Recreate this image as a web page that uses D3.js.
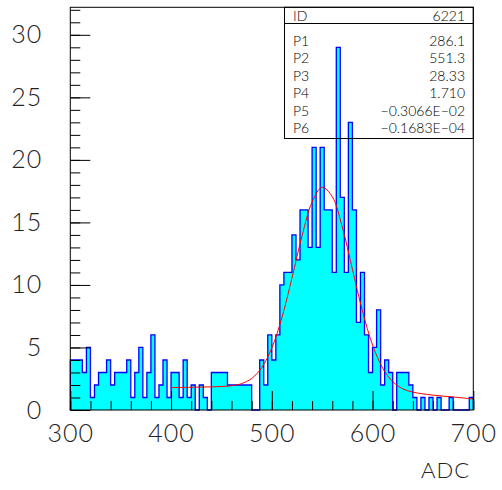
<!DOCTYPE html>
<html>
<head>
<meta charset="utf-8">
<script src="https://cdn.jsdelivr.net/npm/d3@7"></script>
<style>
  body { margin: 0; background: #fff; }
  svg text { font-family: "Lato", "Liberation Sans", sans-serif; font-weight: 300; fill: #222; }
</style>
</head>
<body>
<svg width="502" height="490"></svg>
<script>
// histogram: 100 bins of 4 ADC from 300 to 700
const binStart = 300, binWidth = 4;
const counts = [
  4, 4, 4, 3, 5, 1, 2, 3, 3, 4,      // 300-340
  2, 3, 3, 3, 4, 1, 3, 5, 1, 3,      // 340-380
  6, 1, 2, 4, 1, 3, 3, 1, 4, 1,      // 380-420
  2, 0, 2, 1, 0, 3, 3, 3, 3, 2,      // 420-460
  2, 2, 2, 2, 2, 0, 0, 4, 2, 6,      // 460-500
  4, 6, 10, 11, 11, 14, 12, 16, 16, 13, // 500-540
  21, 13, 21, 16, 16, 11, 29, 17, 11, 23, // 540-580
  16, 7, 11, 6, 3, 5, 8, 2, 4, 3,    // 580-620
  0, 3, 3, 3, 2, 1, 0, 1, 0, 1,      // 620-660
  0, 1, 0, 0, 1, 0, 0, 0, 0, 1       // 660-700
];

// fitted curve (ADC, entries)
const fitX = [400, 420, 440, 460, 470, 480, 490, 500, 510, 520, 530, 540, 550, 560,
              570, 580, 590, 600, 610, 620, 630, 640, 660, 680, 700];
const fitY = [1.79, 1.82, 1.85, 1.94, 2.11, 2.52, 3.39, 4.95, 7.38, 10.55, 13.92, 16.63, 17.81, 17.06,
              14.61, 11.26, 7.91, 5.20, 3.36, 2.27, 1.70, 1.43, 1.19, 1.04, 0.88];

const statLabels = ["P1", "P2", "P3", "P4", "P5", "P6"];
const statValues = ["286.1", "551.3", "28.33", "1.710", "\u22120.3066E\u221202", "\u22120.1683E\u221204"];
const histId = "6221";

const xTicksMajor = [300, 400, 500, 600, 700];
const yTicksMajor = [0, 5, 10, 15, 20, 25, 30];

const plotL = 70.3, plotR = 473.3, plotT = 7.3, plotB = 410;

const svg = d3.select("svg");

const x = d3.scaleLinear().domain([300, 700]).range([plotL, plotR]);
const y = d3.scaleLinear().domain([0, 32.2]).range([plotB, plotT]);

// bins as step shape
const bins = counts.map((c, i) => ({ x0: binStart + i * binWidth, x1: binStart + (i + 1) * binWidth, c: c }));
const stepPts = [[300, 0]];
bins.forEach(b => { stepPts.push([b.x0, b.c]); stepPts.push([b.x1, b.c]); });
stepPts.push([700, 0]);

svg.append("path")
    .datum(stepPts)
    .attr("d", d3.area().x(d => x(d[0])).y0(y(0)).y1(d => y(d[1])))
    .style("fill", "#00ffff")
    .style("stroke", "none");

svg.append("path")
    .datum(stepPts)
    .attr("d", d3.line().x(d => x(d[0])).y(d => y(d[1])))
    .style("fill", "none")
    .style("stroke", "#0000ff")
    .style("stroke-width", 1.3);

// fit
svg.append("path")
    .datum(fitX.map((v, i) => [v, fitY[i]]))
    .attr("d", d3.line().x(d => x(d[0])).y(d => y(d[1])).curve(d3.curveCatmullRom))
    .style("fill", "none")
    .style("stroke", "#ff0000")
    .style("stroke-width", 1);

// ticks inside the frame
function styleTicks(g) {
  g.select(".domain").remove();
  g.selectAll("line").style("stroke", "#000");
  g.selectAll("text").remove();
}
svg.append("g").attr("transform", `translate(0,${plotB})`)
    .call(d3.axisTop(x).tickValues(d3.range(300, 701, 20)).tickSize(9)).call(styleTicks);
svg.append("g").attr("transform", `translate(0,${plotB})`)
    .call(d3.axisTop(x).tickValues(xTicksMajor).tickSize(19)).call(styleTicks);
svg.append("g").attr("transform", `translate(${plotL},0)`)
    .call(d3.axisRight(y).tickValues(d3.range(0, 33, 1)).tickSize(10)).call(styleTicks);
svg.append("g").attr("transform", `translate(${plotL},0)`)
    .call(d3.axisRight(y).tickValues(yTicksMajor).tickSize(20)).call(styleTicks);

// tick labels
const xl = svg.append("g").attr("transform", `translate(0,${plotB})`)
    .call(d3.axisBottom(x).tickValues(xTicksMajor).tickSize(0).tickPadding(14));
xl.select(".domain").remove();
xl.selectAll("text").style("font-size", "25px").style("font-family", null)
    .style("fill", "#222").style("letter-spacing", "1px");

const yl = svg.append("g").attr("transform", `translate(${plotL},0)`)
    .call(d3.axisLeft(y).tickValues(yTicksMajor).tickSize(0).tickPadding(28));
yl.select(".domain").remove();
yl.selectAll("text").style("font-size", "25px").style("font-family", null)
    .style("fill", "#222").style("letter-spacing", "1px");

svg.append("text")
    .attr("x", 470).attr("y", 478)
    .attr("text-anchor", "end")
    .style("font-size", "22px")
    .style("letter-spacing", "1px")
    .text("ADC");

// frame
svg.append("rect")
    .attr("x", plotL).attr("y", plotT)
    .attr("width", plotR - plotL).attr("height", plotB - plotT)
    .style("fill", "none").style("stroke", "#000").style("stroke-width", 1);

// stats box
const bx0 = 284.5, bx1 = plotR, by0 = plotT, by1 = 138.5, sep = 23.5, rowH = 17.5;
const box = svg.append("g");
box.append("rect")
    .attr("x", bx0).attr("y", by0).attr("width", bx1 - bx0).attr("height", by1 - by0)
    .style("fill", "none").style("stroke", "#000");
box.append("line").attr("x1", bx0).attr("x2", bx1).attr("y1", sep).attr("y2", sep).style("stroke", "#000");
box.append("text").attr("x", 293).attr("y", 20.5).style("font-size", "14px").style("fill", "#000").text("ID");
box.append("text").attr("x", 465).attr("y", 20.5).attr("text-anchor", "end")
    .style("font-size", "14px").style("fill", "#000").text(histId);
box.selectAll(".lab").data(statLabels).enter().append("text")
    .attr("x", 293).attr("y", (d, i) => 45.5 + i * rowH)
    .style("font-size", "14px").style("fill", "#000").text(d => d);
box.selectAll(".val").data(statValues).enter().append("text")
    .attr("x", 465).attr("y", (d, i) => 45.5 + i * rowH)
    .attr("text-anchor", "end")
    .style("font-size", "14px").style("fill", "#000").text(d => d);
</script>
</body>
</html>
